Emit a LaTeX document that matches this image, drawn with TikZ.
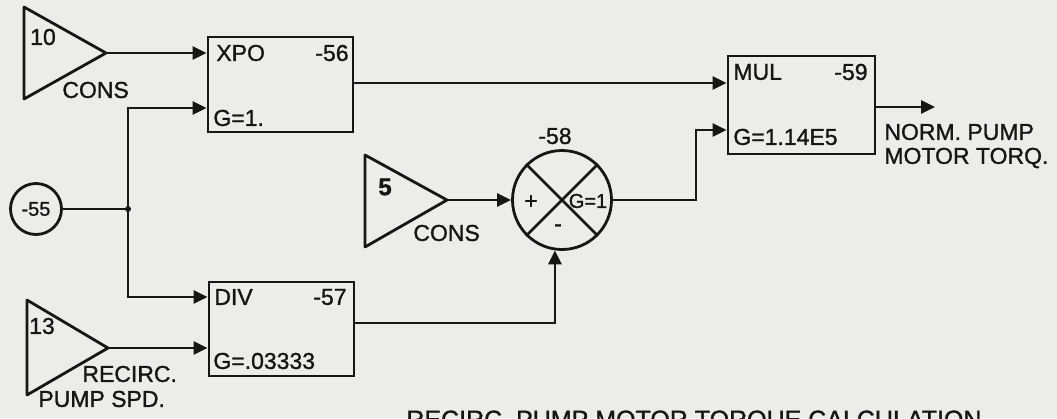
\documentclass[tikz,border=0pt]{standalone}
\usepackage{fontspec}
\setmainfont{Liberation Sans}[FakeBold=1.2]
\usetikzlibrary{arrows.meta}
\definecolor{paper}{RGB}{236,236,234}
\definecolor{ink}{RGB}{22,22,22}
\begin{document}
\begin{tikzpicture}[x=1pt,y=-1pt,line width=2.8pt,draw=ink,
  lbl/.style={font=\fontsize{23}{25}\selectfont,inner sep=0pt,text=ink},
  blk/.style={draw=ink,rectangle,inner sep=0pt},
  arr/.style={-{Triangle[length=14pt,width=13pt]}},
  amp/.style={draw=ink,line join=round}]
\useasboundingbox (0,0) rectangle (1057,418);
\fill[paper] (0,0) rectangle (1057,418);
\clip (0,0) rectangle (1057,418);
% amplifiers (constants)
\draw[amp] (24,7) -- (24,99) -- (106,53) -- cycle;
\coordinate (t10) at (106,53);
\draw[amp] (27,300) -- (27,395) -- (108,348) -- cycle;
\coordinate (t13) at (108,348);
\draw[amp] (365,155) -- (365,247) -- (447,200) -- cycle;
\coordinate (t5) at (447,200);
% blocks
\node[blk,minimum width=145pt,minimum height=95pt] (xpo) at (280.5,84.5) {};
\node[blk,minimum width=145pt,minimum height=94pt] (div) at (281.5,329) {};
\node[blk,minimum width=147pt,minimum height=98pt] (mul) at (801.5,105) {};
\node[draw=ink,circle,minimum size=51pt,inner sep=0pt] (c55) at (36,209) {};
\node[draw=ink,circle,minimum size=99pt,inner sep=0pt] (sum) at (562,200) {};
\draw (sum.45) -- (sum.225);
\draw (sum.135) -- (sum.-45);
% junction
\coordinate (jn) at (128,209);
\coordinate (out) at (935,107);
% connectors
\draw[arr] (t10) -- (t10 -| xpo.west);
\draw (c55.east) -- (jn);
\fill[ink] (jn) circle (3pt);
\draw[arr] (jn) |- (xpo.west |- 0,108);
\draw[arr] (jn) |- (div.west |- 0,297);
\draw[arr] (t13) -- (t13 -| div.west);
\draw[arr] (t5) -- (sum.west);
\draw[arr] (div.east |- 0,323) -| (sum.-98);
\draw[arr] (sum.east) -- ++(83,0) |- (mul.west |- 0,130);
\draw[arr] (xpo.east |- 0,83) -- (mul.west |- 0,83);
\draw[arr] (mul.east |- 0,107) -- (out);
% labels
\node[lbl,font=\fontsize{20}{22}\selectfont] (l55) at (c55) {-55};
\node[lbl] (l10) at (43,37) {10};
\node[lbl,anchor=west] (lc1) at (61,90) {CONS};
\node[lbl,anchor=west] (lxpo) at (215,53) {XPO};
\node[lbl,anchor=east] (l56) at (350,53) {-56};
\node[lbl,anchor=west] (lg1) at (212,118) {G=1.};
\node[lbl,anchor=west] (ldiv) at (213,297) {DIV};
\node[lbl,anchor=east] (l57) at (348,297) {-57};
\node[lbl,anchor=west] (lg2) at (212,361) {G=.03333};
\node[lbl] (l13) at (42,326) {13};
\node[lbl,anchor=west] (lrc) at (81,374) {RECIRC.};
\node[lbl,anchor=west] (lps) at (37,399) {PUMP SPD.};
\node[lbl,font=\fontsize{24}{26}\selectfont\bfseries] (l5) at (385,187) {5};
\node[lbl,anchor=west] (lc2) at (412,233) {CONS};
\node[lbl] (l58) at (555,136) {-58};
\node[lbl] (lplus) at (531,202) {+};
\node[lbl] (lminus) at (558,228) {-};
\node[lbl,font=\fontsize{20}{22}\selectfont] (lg3) at (588,201) {G=1};
\node[lbl,anchor=west] (lmul) at (732,72) {MUL};
\node[lbl,anchor=east] (l59) at (869,72) {-59};
\node[lbl,anchor=west] (lg4) at (732,137) {G=1.14E5};
\node[lbl,anchor=west] (ln1) at (883,132) {NORM. PUMP};
\node[lbl,anchor=west] (ln2) at (883,158) {MOTOR TORQ.};
\node[lbl,font=\fontsize{25}{27}\selectfont,anchor=base west] (ltitle) at (405,428) {RECIRC. PUMP MOTOR TORQUE CALCULATION};
\end{tikzpicture}
\end{document}
